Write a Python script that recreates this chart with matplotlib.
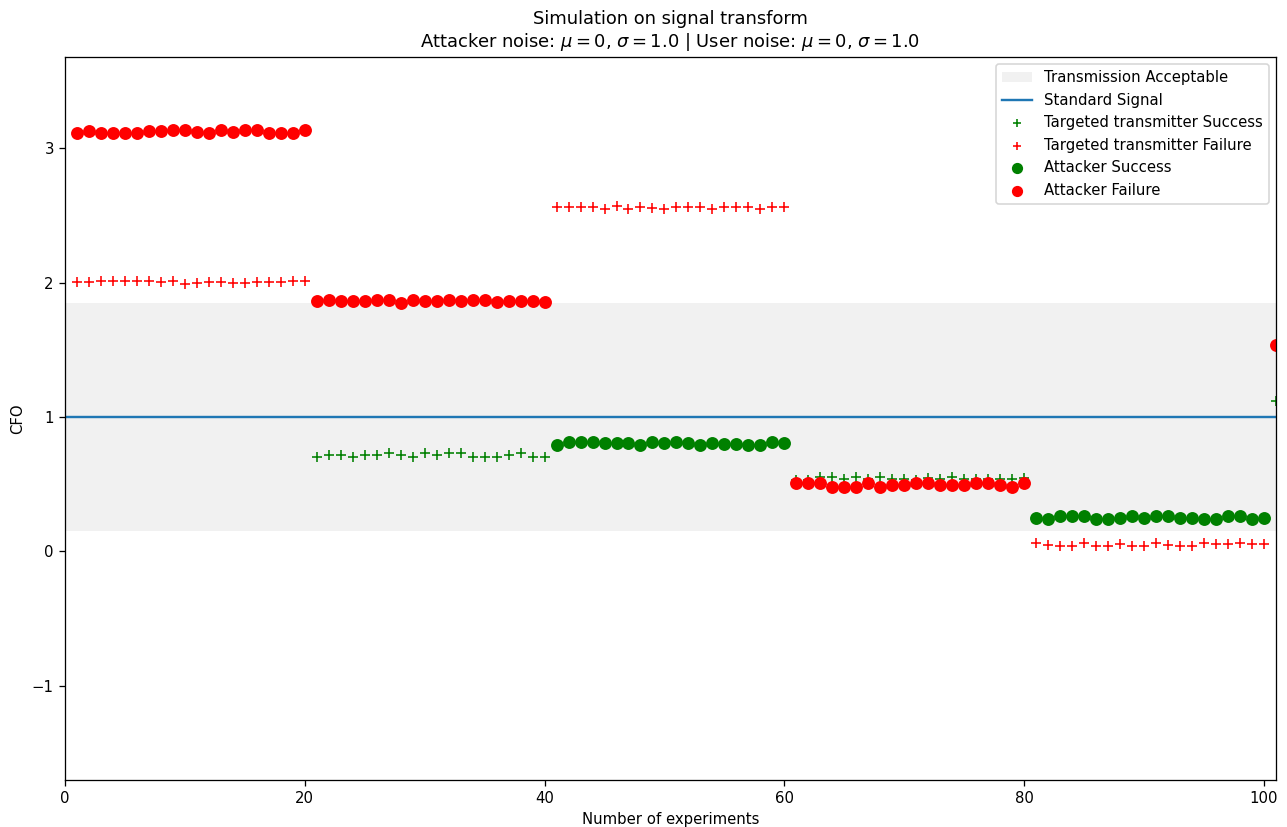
"""Simulation on signal transform: CFO per experiment."""
import matplotlib
matplotlib.use("Agg")
import matplotlib.pyplot as plt

# experiment blocks and the outcome of each side in each block
block_sizes = [20, 20, 20, 20, 20, 1]
attacker_ok = [False, False, True, False, True, False]
transmitter_ok = [False, True, False, True, False, True]

attacker_cfo = [
    3.116, 3.126, 3.116, 3.116, 3.116, 3.118, 3.126, 3.126, 3.134, 3.134,
    3.121, 3.113, 3.134, 3.124, 3.134, 3.134, 3.113, 3.116, 3.116, 3.134,
    1.860, 1.870, 1.860, 1.860, 1.860, 1.870, 1.870, 1.850, 1.870, 1.860,
    1.860, 1.870, 1.860, 1.870, 1.870, 1.855, 1.860, 1.860, 1.860, 1.855,
    0.792, 0.812, 0.812, 0.812, 0.804, 0.804, 0.804, 0.792, 0.812, 0.804,
    0.812, 0.804, 0.792, 0.804, 0.797, 0.797, 0.792, 0.792, 0.817, 0.804,
    0.507, 0.507, 0.507, 0.482, 0.482, 0.482, 0.507, 0.482, 0.490, 0.490,
    0.507, 0.507, 0.490, 0.490, 0.490, 0.507, 0.507, 0.490, 0.482, 0.507,
    0.250, 0.240, 0.260, 0.260, 0.260, 0.240, 0.240, 0.250, 0.260, 0.250,
    0.260, 0.260, 0.250, 0.250, 0.240, 0.240, 0.260, 0.260, 0.240, 0.250,
    1.533,
]

transmitter_cfo = [
    2.002, 2.002, 2.010, 2.010, 2.010, 2.010, 2.010, 2.002, 2.010, 1.993,
    1.998, 2.002, 2.002, 1.998, 1.998, 2.002, 2.002, 2.002, 2.010, 2.010,
    0.705, 0.715, 0.715, 0.705, 0.715, 0.715, 0.735, 0.715, 0.705, 0.730,
    0.715, 0.730, 0.730, 0.705, 0.705, 0.705, 0.715, 0.730, 0.705, 0.705,
    2.567, 2.567, 2.560, 2.560, 2.548, 2.572, 2.548, 2.560, 2.553, 2.548,
    2.560, 2.560, 2.567, 2.548, 2.560, 2.567, 2.560, 2.548, 2.567, 2.567,
    0.532, 0.532, 0.551, 0.551, 0.536, 0.556, 0.536, 0.556, 0.536, 0.536,
    0.532, 0.544, 0.536, 0.556, 0.541, 0.541, 0.541, 0.536, 0.536, 0.546,
    0.062, 0.047, 0.042, 0.042, 0.062, 0.042, 0.042, 0.052, 0.042, 0.042,
    0.062, 0.047, 0.042, 0.042, 0.062, 0.052, 0.052, 0.062, 0.052, 0.052,
    1.121,
]

standard_signal = 1.0
acceptable_low = 0.15
acceptable_high = 1.85


def split_results():
    """Split the experiments into success / failure sets for both sides."""
    series = {"ts": ([], []), "tf": ([], []), "as": ([], []), "af": ([], [])}
    n = 1
    for size, a_ok, t_ok in zip(block_sizes, attacker_ok, transmitter_ok):
        for _ in range(size):
            akey = "as" if a_ok else "af"
            tkey = "ts" if t_ok else "tf"
            series[akey][0].append(n)
            series[akey][1].append(attacker_cfo[n - 1])
            series[tkey][0].append(n)
            series[tkey][1].append(transmitter_cfo[n - 1])
            n += 1
    return series


series = split_results()

plt.rcParams["font.size"] = 9.3

fig = plt.figure(figsize=(1287 / 115, 827 / 115), dpi=115)
ax = fig.add_axes([0.0505, 0.0574, 0.9409, 0.8736])

ax.axhspan(acceptable_low, acceptable_high, color="lightgray", alpha=0.3,
           lw=0, label="Transmission Acceptable")
ax.axhline(standard_signal, color="tab:blue", lw=1.5, label="Standard Signal")
ax.scatter(*series["ts"], marker="+", color="green", s=40, lw=1.0,
           label="Targeted transmitter Success")
ax.scatter(*series["tf"], marker="+", color="red", s=40, lw=1.0,
           label="Targeted transmitter Failure")
ax.scatter(*series["as"], marker="o", color="green", s=50,
           label="Attacker Success")
ax.scatter(*series["af"], marker="o", color="red", s=50,
           label="Attacker Failure")

ax.set_xlim(0, 101)
ax.set_ylim(-1.7, 3.68)
ax.set_xlabel("Number of experiments")
ax.set_ylabel("CFO")
ax.set_title("Simulation on signal transform\n"
             r"Attacker noise: $\mu = 0$, $\sigma = 1.0$ | User noise: $\mu = 0$, $\sigma = 1.0$")
ax.legend(loc="upper right", markerscale=0.85)

fig.savefig("out.png")
plt.close(fig)
